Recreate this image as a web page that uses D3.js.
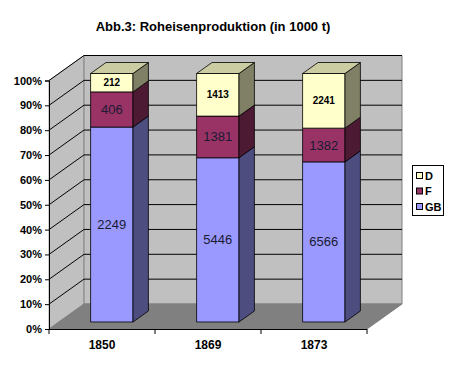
<!DOCTYPE html>
<html>
<head>
<meta charset="utf-8">
<script src="https://cdn.jsdelivr.net/npm/d3@7"></script>
<style>
  body { margin: 0; background: #fff; }
  svg text { font-family: Arial, "Liberation Sans", sans-serif; }
</style>
</head>
<body>
<div class="chart"></div>
<script>
// chart data
var years = ['1850', '1869', '1873'];
var seriesNames = ['GB', 'F', 'D'];
var gbValues = [2249, 5446, 6566];
var fValues = [406, 1381, 1382];
var dValues = [212, 1413, 2241];
var yTicks = [0, 0.1, 0.2, 0.3, 0.4, 0.5, 0.6, 0.7, 0.8, 0.9, 1];

var width = 454,
  height = 365;

var x0 = 49, x1 = 367, y0 = 329;
var depthX = 35, depthY = -25;
var zFront = 0.28, zBack = 0.72;

var colors = {
  GB: { front: '#9999ff', side: '#4d4d80', top: '#7a7acc' },
  F: { front: '#993366', side: '#4d1a33', top: '#7a2952' },
  D: { front: '#ffffcc', side: '#808066', top: '#ccccA3' }
};

var svg = d3
  .select('.chart')
  .append('svg')
  .attr('width', width)
  .attr('height', height);

var xScale = d3
  .scaleBand()
  .domain(years)
  .range([x0, x1])
  .paddingInner(0.6)
  .paddingOuter(0.3);

var yScale = d3.scaleLinear().domain([0, 1]).range([0, 248.5]);

// project (front x, value, depth) to screen
function pt(x, v, z) {
  return [x + depthX * z, y0 - yScale(v) + depthY * z];
}
function poly(points) {
  return points.map((p) => p.join(',')).join(' ');
}

// walls
svg
  .append('polygon')
  .attr('points', poly([pt(x0, 0, 0), pt(x0, 1, 0), pt(x0, 1, 1), pt(x0, 0, 1)]))
  .attr('fill', '#c0c0c0')
  .attr('stroke', '#a0a0a0');

svg
  .append('polygon')
  .attr('points', poly([pt(x0, 0, 1), pt(x0, 1, 1), pt(x1, 1, 1), pt(x1, 0, 1)]))
  .attr('fill', '#c0c0c0')
  .attr('stroke', '#808080');

svg
  .append('polygon')
  .attr('points', poly([pt(x0, 0, 0), pt(x0, 0, 1), pt(x1, 0, 1), pt(x1, 0, 0)]))
  .attr('fill', '#808080')
  .attr('stroke', '#808080');

// gridlines
yTicks.slice(1).forEach((t) => {
  var a = pt(x0, t, 0), b = pt(x0, t, 1), c = pt(x1, t, 1);
  svg
    .append('polyline')
    .attr('points', poly([a, b, c]))
    .attr('fill', 'none')
    .attr('stroke', '#000')
    .attr('stroke-width', 1);
});

// axes
var yAxisScale = d3.scaleLinear().domain([0, 1]).range([y0, y0 - 248.5]);
svg
  .append('g')
  .attr('transform', 'translate(' + x0 + ',0)')
  .call(
    d3.axisLeft(yAxisScale)
      .tickValues(yTicks)
      .tickFormat(d3.format('.0%'))
      .tickSize(4)
      .tickPadding(3)
  )
  .call((g) => g.select('.domain').attr('stroke', '#000'))
  .selectAll('text')
  .attr('font-size', 11)
  .attr('font-weight', 'bold')
  .attr('fill', '#000');

svg
  .append('line')
  .attr('x1', x0)
  .attr('x2', x1)
  .attr('y1', y0 + 0.5)
  .attr('y2', y0 + 0.5)
  .attr('stroke', '#000');

var catEdges = [x0].concat(years.map((d) => xScale(d) + xScale.step() * 0.7));
catEdges.forEach((x) => {
  svg
    .append('line')
    .attr('x1', x)
    .attr('x2', x)
    .attr('y1', y0)
    .attr('y2', y0 + 5)
    .attr('stroke', '#000');
});

svg
  .selectAll('.cat')
  .data(years)
  .enter()
  .append('text')
  .attr('class', 'cat')
  .attr('x', (d) => xScale(d) + xScale.bandwidth() / 2)
  .attr('y', 349)
  .attr('text-anchor', 'middle')
  .attr('font-size', 12)
  .attr('font-weight', 'bold')
  .text((d) => d);

// stacked percent bars
var table = years.map((y, i) => ({ year: y, GB: gbValues[i], F: fValues[i], D: dValues[i] }));
var stack = d3.stack().keys(seriesNames).offset(d3.stackOffsetExpand)(table);

stack.forEach((layer) => {
  var key = layer.key;
  layer.forEach((seg, i) => {
    var xl = xScale(years[i]);
    var xr = xl + xScale.bandwidth();
    var v0 = seg[0], v1 = seg[1];
    var g = svg.append('g');
    g.append('polygon')
      .attr('points', poly([pt(xl, v0, zFront), pt(xr, v0, zFront), pt(xr, v1, zFront), pt(xl, v1, zFront)]))
      .attr('fill', colors[key].front)
      .attr('stroke', '#000')
      .attr('stroke-width', 0.8);
    g.append('polygon')
      .attr('points', poly([pt(xr, v0, zFront), pt(xr, v0, zBack), pt(xr, v1, zBack), pt(xr, v1, zFront)]))
      .attr('fill', colors[key].side)
      .attr('stroke', '#000')
      .attr('stroke-width', 0.8);
    if (v1 >= 0.999) {
      g.append('polygon')
        .attr('points', poly([pt(xl, v1, zFront), pt(xr, v1, zFront), pt(xr, v1, zBack), pt(xl, v1, zBack)]))
        .attr('fill', colors[key].top)
        .attr('stroke', '#000')
        .attr('stroke-width', 0.8);
    }
    var c = pt((xl + xr) / 2, (v0 + v1) / 2, zFront);
    g.append('text')
      .attr('x', c[0])
      .attr('y', c[1])
      .attr('dy', '0.35em')
      .attr('text-anchor', 'middle')
      .attr('font-size', key === 'D' ? 10 : 13)
      .attr('font-weight', key === 'D' ? 'bold' : 'normal')
      .attr('fill', key === 'D' ? '#000' : '#1a1a33')
      .text(table[i][key]);
  });
});

// title
svg
  .append('text')
  .attr('x', 213)
  .attr('y', 31)
  .attr('text-anchor', 'middle')
  .attr('font-size', 13)
  .attr('font-weight', 'bold')
  .text('Abb.3: Roheisenproduktion (in 1000 t)');

// legend
var legend = svg.append('g').attr('transform', 'translate(412,165)');
legend
  .append('rect')
  .attr('x', 0.5)
  .attr('y', 0.5)
  .attr('width', 31)
  .attr('height', 50)
  .attr('fill', '#fff')
  .attr('stroke', '#000');

var legendKeys = seriesNames.slice().reverse();
legendKeys.forEach((k, i) => {
  var yy = 8 + i * 15.5;
  legend
    .append('rect')
    .attr('x', 4.5)
    .attr('y', yy - 0.5)
    .attr('width', 6)
    .attr('height', 6)
    .attr('fill', colors[k].front)
    .attr('stroke', '#000');
  legend
    .append('text')
    .attr('x', 13)
    .attr('y', yy + 3)
    .attr('dy', '0.35em')
    .attr('font-size', 11)
    .attr('font-weight', 'bold')
    .text(k);
});
</script>
</body>
</html>
